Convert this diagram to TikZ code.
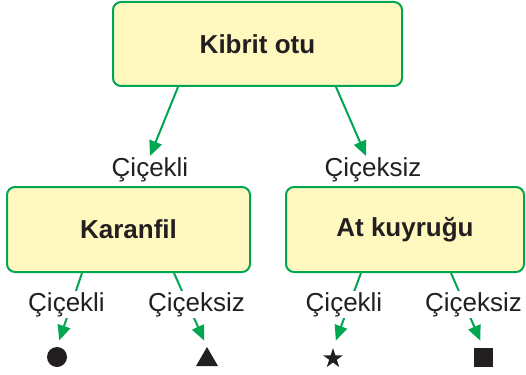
\documentclass[tikz,border=0pt]{standalone}
\usepackage{fontspec}
\setmainfont{Liberation Sans}
\usetikzlibrary{calc,arrows.meta,shapes.geometric}
\definecolor{boxgreen}{RGB}{0,166,81}
\definecolor{boxfill}{RGB}{255,249,192}
\definecolor{ink}{RGB}{35,31,32}
\tikzset{
  box/.style={draw=boxgreen, line width=2pt, fill=boxfill, rounded corners=8pt,
    font=\fontsize{26}{30}\selectfont\bfseries, text=ink, inner sep=0pt},
  lbl/.style={font=\fontsize{26}{30}\selectfont, text=ink, inner sep=1pt, anchor=base},
  wlbl/.style={lbl, fill=white},
  arr/.style={draw=boxgreen, line width=2pt, -{Triangle[length=15pt,width=13pt]}},
  sym/.style={fill=ink, draw=none, inner sep=0pt, outer sep=0pt}
}
\begin{document}
\begin{tikzpicture}[x=1pt,y=-1pt]
\useasboundingbox (0,0) rectangle (526,374);
% boxes
\node[box, minimum width=289pt, minimum height=84pt] (top) at (257.5,44) {Kibrit otu};
\node[box, minimum width=243pt, minimum height=85pt] (kar) at (128.5,229.5) {Karanfil};
\node[box, minimum width=238pt, minimum height=85pt] (atk) at (405,229.5) {At kuyruğu};
% top labels
\node[lbl] (lab1) at (150,176) {Çiçekli};
\node[lbl] (lab2) at (373,176) {Çiçeksiz};
% symbols
\node[sym, circle, minimum size=20pt] (circ) at (57,357) {};
\node[sym, regular polygon, regular polygon sides=3, minimum size=25.4pt] (tri) at (207,359.7) {};
\node[sym, star, star points=5, star point ratio=2.618, minimum size=21pt] (str) at (333,358.5) {};
\node[sym, rectangle, minimum width=19pt, minimum height=19pt] (sq) at (483.5,357.5) {};
% arrows
\draw[arr] ($(top.south west)+(66,0)$) -- (lab1.north);
\draw[arr] ($(top.south west)+(224,0)$) -- ($(lab2.north)+(-7,0)$);
\draw[arr, shorten >=7pt] ($(kar.south west)+(76,0)$) -- (circ.north);
\draw[arr, shorten >=7pt] ($(kar.south west)+(168,0)$) -- (tri.north);
\draw[arr, shorten >=8pt] ($(atk.south west)+(76,0)$) -- (str.north);
\draw[arr, shorten >=8pt] ($(atk.south west)+(166,0)$) -- (sq.north);
% bottom labels over arrows
\node[wlbl] (l3) at (66.5,311) {Çiçekli};
\node[wlbl] (l4) at (196.5,311) {Çiçeksiz};
\node[wlbl] (l5) at (344,311) {Çiçekli};
\node[wlbl] (l6) at (473.5,311) {Çiçeksiz};
\end{tikzpicture}
\end{document}
